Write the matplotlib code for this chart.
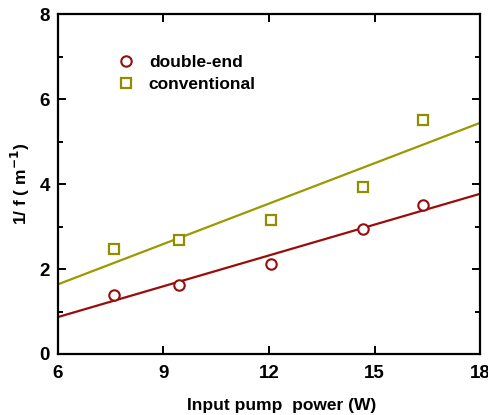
import matplotlib
matplotlib.use('Agg')
import matplotlib.pyplot as plt
from matplotlib.ticker import MultipleLocator

plt.rcParams['font.family'] = ['Liberation Sans', 'DejaVu Sans']
plt.rcParams['font.weight'] = 'bold'

# measured points
power = [7.60, 9.43, 12.07, 14.68, 16.37]
double_end = [1.40, 1.62, 2.13, 2.95, 3.50]
conventional = [2.46, 2.68, 3.15, 3.94, 5.50]

# linear fit lines (end points)
fit_x = [6, 18]
fit_double = [0.87, 3.77]
fit_conv = [1.64, 5.44]

red = '#9a0c0c'
olive = '#8e8e00'

fig = plt.figure(figsize=(4.89, 4.15), dpi=100)
ax = fig.add_axes([0.1186, 0.147, 0.863, 0.819])

ax.plot(fit_x, fit_double, color=red, lw=1.6)
ax.plot(fit_x, fit_conv, color='#9a9a00', lw=1.6)
ax.plot(power, double_end, 'o', ms=7.5, mfc='white', mec=red, mew=1.5,
        ls='none', label='double-end')
ax.plot(power, conventional, 's', ms=6.5, mfc='white', mec=olive, mew=1.6,
        ls='none', label='conventional')

ax.set_xlim(6, 18)
ax.set_ylim(0, 8)
ax.xaxis.set_major_locator(MultipleLocator(3))
ax.yaxis.set_major_locator(MultipleLocator(2))
ax.yaxis.set_minor_locator(MultipleLocator(1))

for s in ax.spines.values():
    s.set_linewidth(1.6)
ax.tick_params(which='major', direction='in', length=6, width=1.4,
               top=True, right=True, labelsize=13.5)
ax.tick_params(axis='x', which='major', pad=8)
ax.tick_params(axis='y', which='major', pad=6)
ax.tick_params(which='minor', direction='in', length=3.5, width=1.4,
               right=True)
for lab in ax.get_xticklabels() + ax.get_yticklabels():
    lab.set_fontweight('bold')

ax.set_xlabel('Input pump  power (W)', fontsize=12.5, fontweight='bold',
              labelpad=12)
ax.xaxis.set_label_coords(0.53, -0.13)
ax.set_ylabel('1/ f ( m$^{\\mathbf{-1}}$)', fontsize=12.5, fontweight='bold',
              labelpad=5)

leg = ax.legend(loc='upper left', bbox_to_anchor=(0.1, 0.925), frameon=False,
                fontsize=12.5, handletextpad=0.7, labelspacing=0.4,
                handlelength=1.2)
for t in leg.get_texts():
    t.set_fontweight('bold')

fig.savefig('out.png', dpi=100)
